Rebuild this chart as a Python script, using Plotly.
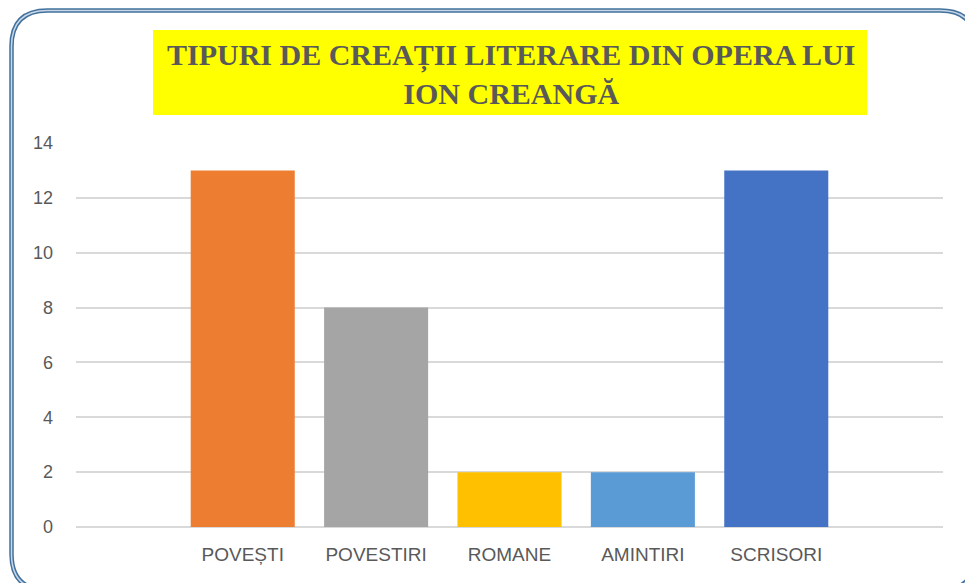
import plotly.graph_objects as go

categories = ["POVEȘTI", "POVESTIRI", "ROMANE", "AMINTIRI", "SCRISORI"]
values = [13, 8, 2, 2, 13]
colors = ["#ED7D31", "#A5A5A5", "#FFC000", "#5B9BD5", "#4472C4"]
y_ticks = [0, 2, 4, 6, 8, 10, 12, 14]
title_text = "TIPURI DE CREAȚII LITERARE DIN OPERA LUI<br>ION CREANGĂ"

W, H = 965, 583
L, R, T, B = 76, 22, 143, 56
pw, ph = W - L - R, H - T - B

def px(x):
    return (x - L) / pw

def py(y):
    return (H - B - y) / ph

fig = go.Figure()
fig.add_trace(go.Bar(x=categories, y=values, marker=dict(color=colors, line=dict(width=0)),
                     width=0.78, hoverinfo="x+y"))

def rounded_path(x0, y0, x1, y1, r):
    pts = [
        f"M {px(x0 + r)},{py(y0)}",
        f"L {px(x1 - r)},{py(y0)}",
        f"Q {px(x1)},{py(y0)} {px(x1)},{py(y0 + r)}",
        f"L {px(x1)},{py(y1 - r)}",
        f"Q {px(x1)},{py(y1)} {px(x1 - r)},{py(y1)}",
        f"L {px(x0 + r)},{py(y1)}",
        f"Q {px(x0)},{py(y1)} {px(x0)},{py(y1 - r)}",
        f"L {px(x0)},{py(y0 + r)}",
        f"Q {px(x0)},{py(y0)} {px(x0 + r)},{py(y0)} Z",
    ]
    return " ".join(pts)

border = rounded_path(11.5, 10.5, 976, 590, 36)
shapes = [
    dict(type="path", xref="paper", yref="paper", path=border,
         line=dict(color="#41719C", width=4.5), layer="above"),
    dict(type="path", xref="paper", yref="paper", path=border,
         line=dict(color="#C9D6E8", width=1.5), layer="above"),
    dict(type="rect", xref="paper", yref="paper",
         x0=px(153), x1=px(867), y0=py(115), y1=py(30),
         fillcolor="#FFFF00", line=dict(width=0), layer="below"),
]

fig.update_layout(
    width=W, height=H,
    margin=dict(l=L, r=R, t=T, b=B),
    paper_bgcolor="white", plot_bgcolor="white",
    showlegend=False,
    shapes=shapes,
    bargap=0.22,
    annotations=[dict(
        text=title_text, xref="paper", yref="paper",
        x=px(511), y=py(74), xanchor="center", yanchor="middle",
        showarrow=False, align="center",
        font=dict(family="Liberation Serif", size=30, color="#595959", weight="bold"),
    )],
    xaxis=dict(range=[-1.25, 5.25], showgrid=False, zeroline=False, showline=False,
               ticks="", tickfont=dict(family="Liberation Sans", size=19, color="#595959"),
               ticklabelstandoff=14),
    yaxis=dict(range=[0, 14], tickvals=y_ticks, showgrid=True, gridcolor="#D9D9D9",
               gridwidth=1.5, zeroline=True, zerolinecolor="#D9D9D9", zerolinewidth=1.5,
               showline=False, ticks="",
               tickfont=dict(family="Liberation Sans", size=18, color="#595959"),
               ticklabelstandoff=22),
)

fig.write_html("out.html", config={"displayModeBar": False},
               post_script="document.body.style.margin='0';")
